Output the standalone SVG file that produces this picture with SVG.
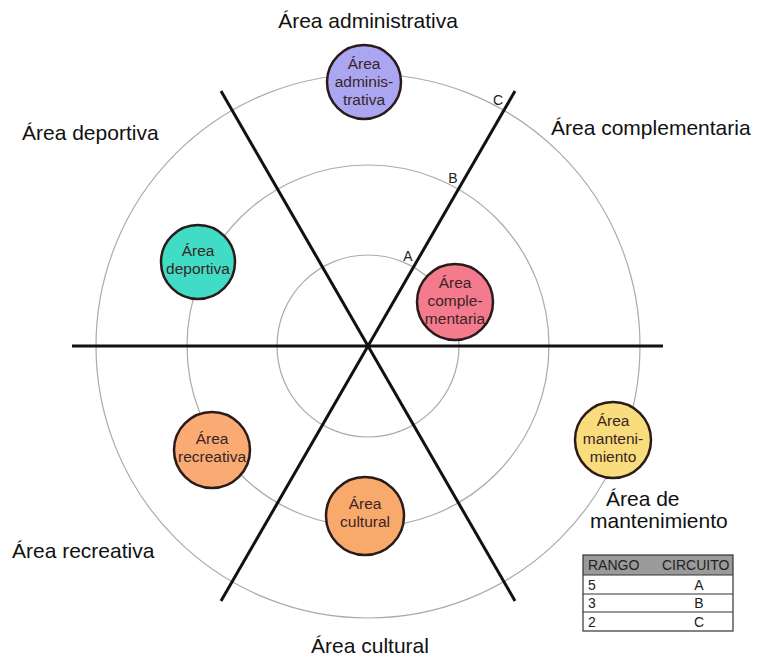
<svg xmlns="http://www.w3.org/2000/svg" width="760" height="662" viewBox="0 0 760 662">
<style>
.ring{fill:none;stroke:#aaaaaa;stroke-width:1.2}
.axis{stroke:#111;stroke-width:3;stroke-linecap:butt}
.node{stroke:#2a1a1a;stroke-width:2.5}
.nt{font-family:"Liberation Sans",Arial,sans-serif;font-size:15.5px;fill:#3a2424;text-anchor:middle}
.lbl{font-family:"Liberation Sans",Arial,sans-serif;font-size:21px;fill:#111}
.lt{font-family:"Liberation Sans",Arial,sans-serif;font-size:14px;fill:#222}
.tb{font-family:"Liberation Sans",Arial,sans-serif;font-size:14px;fill:#222}
</style>
<rect width="760" height="662" fill="#fff"/>
<g id="rings">
<circle class="ring" cx="368" cy="346" r="91"/>
<circle class="ring" cx="368" cy="346" r="181"/>
<circle class="ring" cx="368" cy="346" r="272"/>
</g>
<g id="connectors">
<line class="axis" x1="72" y1="346" x2="663" y2="346"/>
<line class="axis" x1="221" y1="91" x2="515" y2="601"/>
<line class="axis" x1="515" y1="91" x2="221" y2="601"/>
</g>
<g id="ring-labels">
<text class="lt" x="408" y="261" text-anchor="middle">A</text>
<text class="lt" x="453" y="183" text-anchor="middle">B</text>
<text class="lt" x="498" y="105" text-anchor="middle">C</text>
</g>
<g id="node-administrativa">
<circle class="node" cx="364" cy="82" r="37" fill="#aaa6f2"/>
<text class="nt" x="364" y="69">Área</text>
<text class="nt" x="364" y="87">adminis-</text>
<text class="nt" x="364" y="105">trativa</text>
</g>
<g id="node-deportiva">
<circle class="node" cx="198" cy="262" r="37" fill="#40dcc6"/>
<text class="nt" x="198" y="256">Área</text>
<text class="nt" x="198" y="274">deportiva</text>
</g>
<g id="node-complementaria">
<circle class="node" cx="455" cy="302" r="38" fill="#f37b8d"/>
<text class="nt" x="455" y="288">Área</text>
<text class="nt" x="455" y="306">comple-</text>
<text class="nt" x="455" y="324">mentaria</text>
</g>
<g id="node-mantenimiento">
<circle class="node" cx="613" cy="440" r="38" fill="#f9dc7c"/>
<text class="nt" x="613" y="426">Área</text>
<text class="nt" x="613" y="444">manteni-</text>
<text class="nt" x="613" y="462">miento</text>
</g>
<g id="node-recreativa">
<circle class="node" cx="212" cy="450" r="38" fill="#f9ab73"/>
<text class="nt" x="212" y="444">Área</text>
<text class="nt" x="212" y="462">recreativa</text>
</g>
<g id="node-cultural">
<circle class="node" cx="365" cy="516" r="39" fill="#f8a96c"/>
<text class="nt" x="365" y="509">Área</text>
<text class="nt" x="365" y="527">cultural</text>
</g>
<g id="labels">
<text class="lbl" x="368" y="28" text-anchor="middle">Área administrativa</text>
<text class="lbl" x="22" y="140">Área deportiva</text>
<text class="lbl" x="551" y="135">Área complementaria</text>
<text class="lbl" x="606" y="506">Área de</text>
<text class="lbl" x="590" y="528">mantenimiento</text>
<text class="lbl" x="12" y="558">Área recreativa</text>
<text class="lbl" x="370" y="653" text-anchor="middle">Área cultural</text>
</g>
<g id="table">
<rect x="583" y="555" width="150" height="20" fill="#9a9a9a"/>
<rect x="583" y="555" width="150" height="76" fill="none" stroke="#333" stroke-width="1.2"/>
<line x1="583" y1="575" x2="733" y2="575" stroke="#333" stroke-width="1.2"/>
<line x1="583" y1="594" x2="733" y2="594" stroke="#333" stroke-width="1.2"/>
<line x1="583" y1="612" x2="733" y2="612" stroke="#333" stroke-width="1.2"/>
<text class="tb" x="588" y="570">RANGO</text>
<text class="tb" x="662" y="570">CIRCUITO</text>
<text class="tb" x="588" y="590">5</text>
<text class="tb" x="588" y="608">3</text>
<text class="tb" x="588" y="627">2</text>
<text class="tb" x="699" y="590" text-anchor="middle">A</text>
<text class="tb" x="699" y="608" text-anchor="middle">B</text>
<text class="tb" x="699" y="627" text-anchor="middle">C</text>
</g>
</svg>
